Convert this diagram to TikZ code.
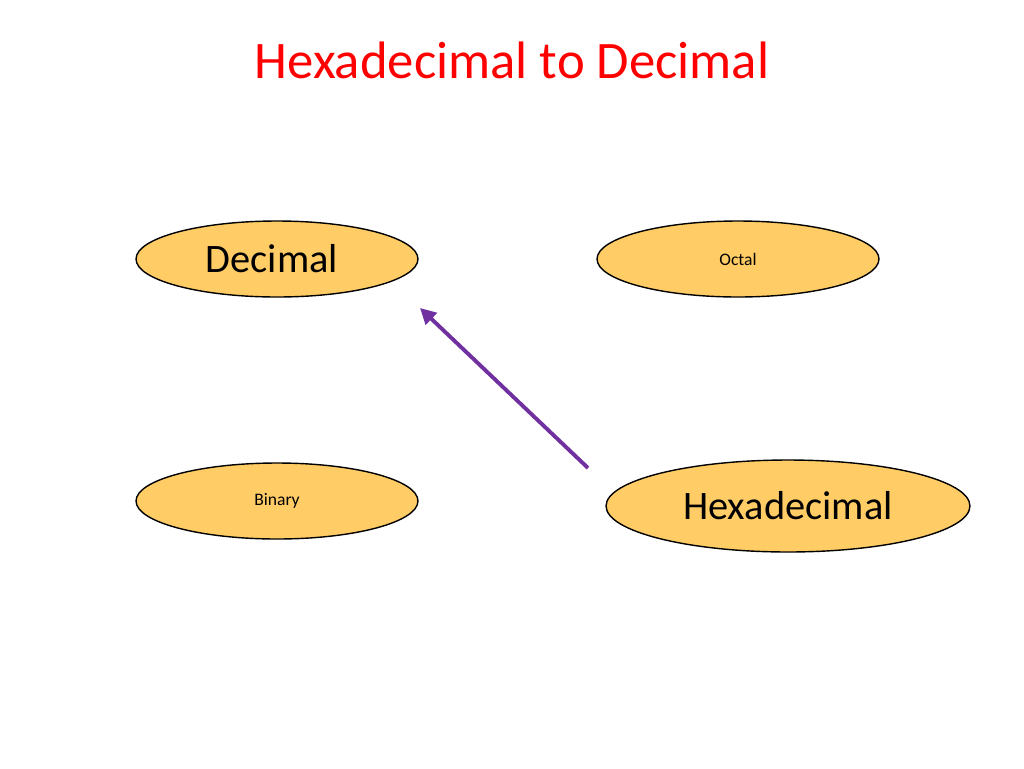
\documentclass[tikz,border=0pt]{standalone}
\usepackage{fontspec}
\setmainfont{Carlito}
\usetikzlibrary{shapes.geometric,arrows.meta}
\definecolor{boxfill}{RGB}{255,204,102}
\definecolor{arrowpurple}{RGB}{112,48,160}
\begin{document}
\begin{tikzpicture}[x=0.02cm,y=-0.02cm,
    numsys/.style={ellipse,draw=black,thick,fill=boxfill,inner sep=0pt}]
  \useasboundingbox (0,0) rectangle (1024,768);
  \node[text=red,font=\fontsize{30}{36}\selectfont] (title) at (512,60) {Hexadecimal to Decimal};
  \node[numsys,minimum width=5.64cm,minimum height=1.52cm,font=\fontsize{23}{28}\selectfont] (dec) at (277,259) {\hspace*{-0.2cm}Decimal};
  \node[numsys,minimum width=5.64cm,minimum height=1.52cm,font=\fontsize{10}{12}\selectfont] (oct) at (738,259) {Octal};
  \node[numsys,minimum width=5.64cm,minimum height=1.52cm,font=\fontsize{10}{12}\selectfont] (bin) at (277,501) {Binary};
  \node[numsys,minimum width=7.28cm,minimum height=1.84cm,font=\fontsize{23}{28}\selectfont] (hex) at (788,506) {Hexadecimal};
  \coordinate (from) at (588,468);
  \coordinate (to) at (420,308);
  \draw[arrowpurple,line width=2.2pt,-{Triangle[length=9pt,width=9pt]}] (from) -- (to);
\end{tikzpicture}
\end{document}
